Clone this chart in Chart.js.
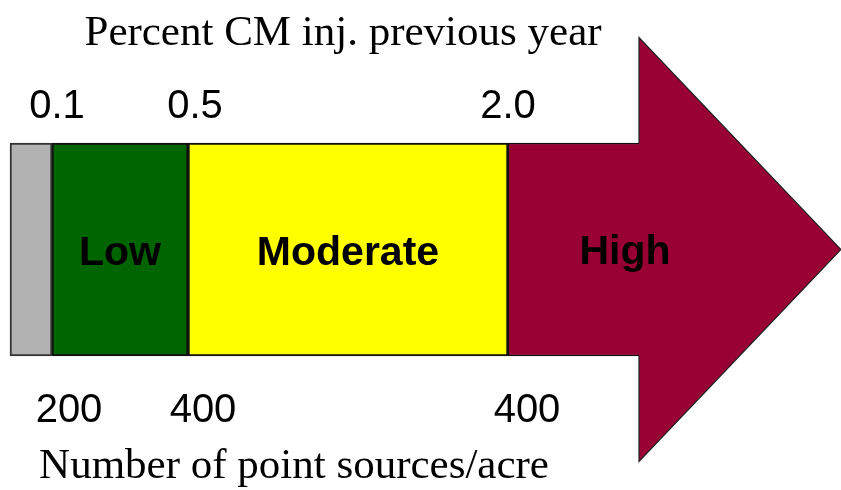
<!DOCTYPE html>
<html>
<head>
<meta charset="utf-8">
<script src="https://cdn.jsdelivr.net/npm/chart.js@4.4.0/dist/chart.umd.min.js"></script>
<style>
  html, body { margin: 0; padding: 0; background: #fff; }
  #wrap { width: 841px; height: 490px; position: relative; }
</style>
</head>
<body>
<div id="wrap"><canvas id="riskChart"></canvas></div>
<script>
// band segments (widths along the arrow, diagram units)
const segLabels = ['', 'Low', 'Moderate', 'High'];
const segWidths = [42, 136, 320, 131];
const segColors = ['#b2b2b2', '#006400', '#ffff00', '#990033'];

// boundary labels
const topTicks = ['0.1', '0.5', '2.0'];
const bottomTicks = ['200', '400', '400'];
const topTitle = 'Percent CM inj. previous year';
const bottomTitle = 'Number of point sources/acre';

// layout of the arrow
const bandStart = 10;
const bandHalf = 106.5;
const headHalf = 212;
const headLength = 202;

const edges = [bandStart];
segWidths.forEach(w => edges.push(edges[edges.length - 1] + w));
const shaftEnd = edges[edges.length - 1];

const barSets = segWidths.map((w, i) => ({
  type: 'bar',
  label: segLabels[i] || 'none',
  indexAxis: 'y',
  xAxisID: 'x',
  yAxisID: 'y',
  data: [[edges[i], edges[i + 1]]],
  backgroundColor: segColors[i],
  borderColor: i === 0 ? '#333' : '#111',
  borderWidth: i === 3 ? 1.5 : 2,
  borderSkipped: i === 3 ? 'right' : false,
  grouped: false,
  barThickness: bandHalf * 2
}));

const headSet = {
  type: 'line',
  label: 'head',
  indexAxis: 'x',
  xAxisID: 'x',
  yAxisID: 'yl',
  data: [
    { x: shaftEnd, y: bandHalf },
    { x: shaftEnd, y: headHalf },
    { x: shaftEnd + headLength, y: 0 },
    { x: shaftEnd, y: -headHalf },
    { x: shaftEnd, y: -bandHalf }
  ],
  fill: 'shape',
  backgroundColor: segColors[3],
  borderColor: '#222',
  borderWidth: 1.2,
  pointRadius: 0,
  tension: 0
};

const textPlugin = {
  id: 'arrowText',
  afterDraw(chart) {
    const { ctx } = chart;
    const x = chart.scales.x;
    const yl = chart.scales.yl;
    const cy = yl.getPixelForValue(0);
    const top = yl.getPixelForValue(bandHalf);
    const bot = yl.getPixelForValue(-bandHalf);
    ctx.save();
    ctx.fillStyle = '#000';
    ctx.textAlign = 'center';
    ctx.textBaseline = 'alphabetic';

    // segment names
    ctx.font = 'bold 41px "Liberation Sans", Arial, sans-serif';
    for (let i = 1; i < 3; i++) {
      const cx = (x.getPixelForValue(edges[i]) + x.getPixelForValue(edges[i + 1])) / 2;
      ctx.fillText(segLabels[i], cx, cy + 15);
    }
    ctx.fillText(segLabels[3], x.getPixelForValue(shaftEnd) - 14, cy + 14);

    // boundary values
    ctx.font = '40px "Liberation Sans", Arial, sans-serif';
    const topDx = [5, 7, 0];
    const botDx = [17, 15, 19];
    topTicks.forEach((t, i) => {
      ctx.fillText(t, x.getPixelForValue(edges[i + 1]) + topDx[i], top - 25);
    });
    bottomTicks.forEach((t, i) => {
      ctx.fillText(t, x.getPixelForValue(edges[i + 1]) + botDx[i], bot + 66);
    });

    // titles
    ctx.font = '43px "Liberation Serif", "Times New Roman", serif';
    ctx.fillText(topTitle, x.getPixelForValue(343), 45);
    ctx.fillText(bottomTitle, x.getPixelForValue(294), 478);
    ctx.restore();
  }
};

new Chart(document.getElementById('riskChart'), {
  type: 'bar',
  data: {
    labels: ['band'],
    datasets: [headSet, ...barSets]
  },
  options: {
    responsive: true,
    maintainAspectRatio: false,
    animation: false,
    indexAxis: 'y',
    layout: { padding: { top: 9, right: 0, bottom: 0, left: 0 } },
    plugins: {
      legend: { display: false },
      tooltip: { enabled: false },
      title: { display: false }
    },
    scales: {
      x: { type: 'linear', min: 0, max: 841, offset: false, display: false },
      y: { type: 'category', offset: true, display: false },
      yl: { type: 'linear', axis: 'y', position: 'right', min: -240.5, max: 240.5, offset: false, display: false }
    }
  },
  plugins: [textPlugin]
});
</script>
</body>
</html>
